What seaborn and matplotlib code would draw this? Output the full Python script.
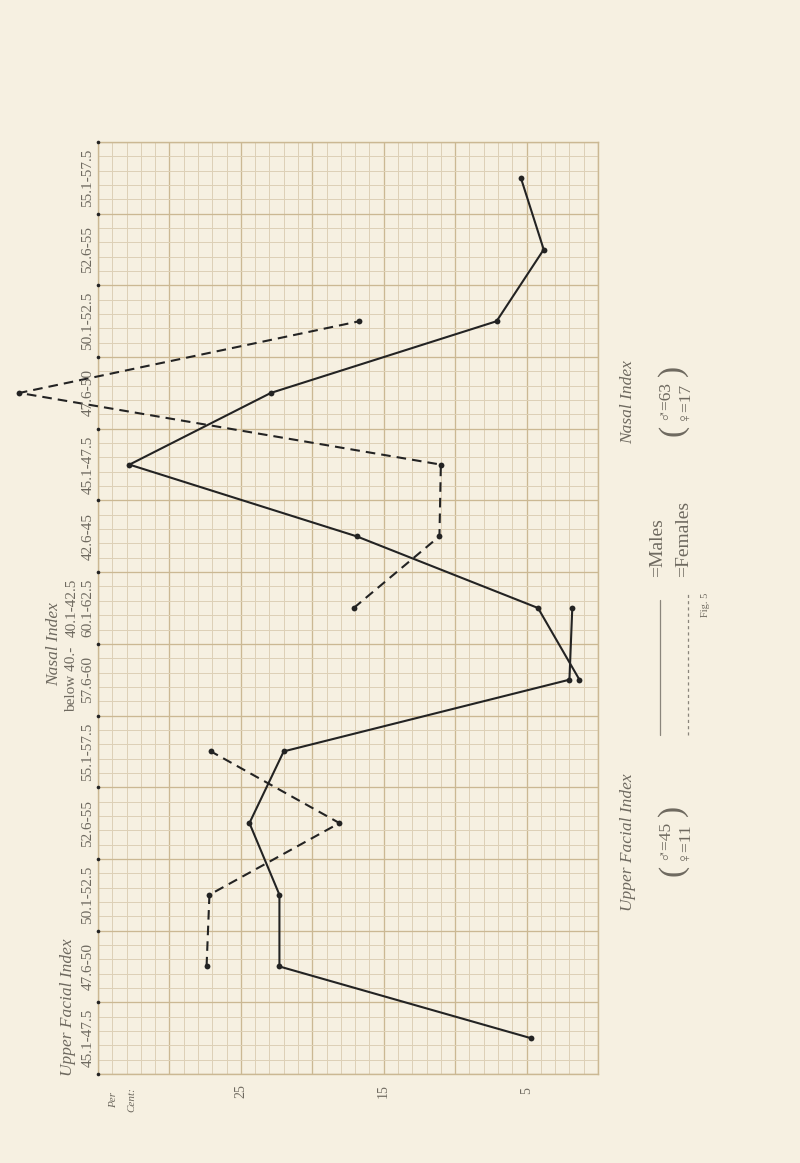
import matplotlib
matplotlib.use("Agg")
import matplotlib.pyplot as plt
import matplotlib.transforms as mtransforms
from matplotlib.lines import Line2D
import seaborn as sns
import pandas as pd
import numpy as np

# ---------------- data ----------------
# bands along the (vertical) index axis, bottom to top
ufi_labels = ["45.1-47.5", "47.6-50", "50.1-52.5", "52.6-55", "55.1-57.5", "57.6-60", "60.1-62.5"]
nasal_labels = ["below 40.-", "40.1-42.5", "42.6-45", "45.1-47.5", "47.6-50",
                "50.1-52.5", "52.6-55", "55.1-57.5"]
nasal_start_band = 5          # "below 40.-" shares the band of "57.6-60"

ufi_male = [4.7, 22.3, 22.3, 24.4, 22.0, 2.0, 1.8]
ufi_female_idx = [1, 2, 3, 4]
ufi_female = [27.4, 27.2, 18.1, 27.1]

nasal_male = [1.3, 4.2, 16.9, 32.8, 22.9, 7.1, 3.8, 5.4]
nasal_female_idx = [1, 2, 3, 4, 5]
nasal_female = [17.1, 11.1, 11.0, 40.5, 16.7]

pct_ticks = [25, 15, 5]
pct_max = 35

n_bands = len(ufi_labels) + len(nasal_labels) - 2

# ---------------- styling ----------------
W, H = 800, 1163
BG = "#f6f0e1"
GRID_MINOR = "#ddd0b6"
GRID_MAJOR = "#cbb893"
INK = "#232323"
TXT = "#6e695f"
SERIF = ["Liberation Serif", "DejaVu Sans"]

sns.set_style("white")
plt.rcParams["font.family"] = SERIF

fig = plt.figure(figsize=(W / 100, H / 100), dpi=100, facecolor=BG)
ax_left, ax_right, ax_top, ax_bot = 98, 598, 142, 1074
ax = fig.add_axes([ax_left / W, 1 - ax_bot / H, (ax_right - ax_left) / W, (ax_bot - ax_top) / H])
ax.set_facecolor(BG)


def px(x, y):
    return x / W, 1 - y / H


# ---------------- series ----------------
def frame(values, bands):
    return pd.DataFrame({"pct": values, "band": [b + 0.5 for b in bands]})


df_ufi_m = frame(ufi_male, list(range(len(ufi_male))))
df_ufi_f = frame(ufi_female, ufi_female_idx)
df_nas_m = frame(nasal_male, [nasal_start_band + i for i in range(len(nasal_male))])
df_nas_f = frame(nasal_female, [nasal_start_band + i for i in nasal_female_idx])

dash = (0, (4.6, 2.9))
for df, ls in [(df_ufi_m, "-"), (df_nas_m, "-"), (df_ufi_f, dash), (df_nas_f, dash)]:
    sns.lineplot(data=df, x="pct", y="band", sort=False, estimator=None, ax=ax,
                 color=INK, lw=1.5, linestyle=ls, marker="o", markersize=4.2,
                 markeredgewidth=0, clip_on=False, zorder=5)

ax.set_xlim(pct_max, 0)
ax.set_ylim(0, n_bands)

# graph-paper grid
ax.set_xticks(np.arange(0, pct_max + 1, 5))
ax.set_xticks(np.arange(0, pct_max + 1, 1), minor=True)
ax.set_yticks(np.arange(0, n_bands + 1, 1))
ax.set_yticks(np.round(np.arange(0, n_bands + 0.01, 0.2), 2), minor=True)
ax.grid(which="minor", color=GRID_MINOR, lw=0.7)
ax.grid(which="major", color=GRID_MAJOR, lw=0.95)
ax.set_axisbelow(True)
ax.tick_params(which="both", length=0, labelbottom=False, labelleft=False)
ax.set_xlabel("")
ax.set_ylabel("")
for s in ax.spines.values():
    s.set_color(GRID_MAJOR)
    s.set_linewidth(1.0)

# dots marking band boundaries on the left edge
ax.plot([pct_max] * (n_bands + 1), list(range(n_bands + 1)), "o", color=INK,
        ms=2.6, mew=0, clip_on=False, zorder=6)

# ---------------- labels ----------------
blend = mtransforms.blended_transform_factory(fig.transFigure, ax.transData)

for i, lab in enumerate(ufi_labels):
    fig.text(88 / W, i + 0.5, lab, transform=blend, rotation=90, ha="center", va="center",
             fontsize=11, color=TXT)
for i, lab in enumerate(nasal_labels):
    b = nasal_start_band + i
    xcol = 72 if b < len(ufi_labels) else 88
    fig.text(xcol / W, b + 0.5, lab, transform=blend, rotation=90, ha="center", va="center",
             fontsize=11, color=TXT)

# axis titles on the left
fig.text(*px(68, 1076), "Upper Facial Index", rotation=90, rotation_mode="anchor",
         ha="left", va="center", fontsize=12.5, style="italic", color=TXT)
fig.text(54 / W, nasal_start_band + 1, "Nasal Index", transform=blend, rotation=90,
         ha="center", va="center", fontsize=12.5, style="italic", color=TXT)

# percent tick labels
blend_x = mtransforms.blended_transform_factory(ax.transData, fig.transFigure)
for t in pct_ticks:
    fig.text(t, 1 - 1091 / H, str(t), transform=blend_x, rotation=90, ha="center",
             va="center", fontsize=10, color=TXT)
fig.text(*px(114, 1100), "Per", rotation=90, ha="center", va="center", fontsize=8,
         style="italic", color=TXT)
fig.text(*px(132, 1100), "Cent:", rotation=90, ha="center", va="center", fontsize=8,
         style="italic", color=TXT)

# right-hand captions
def sample_block(title, yc, male_n, female_n):
    fig.text(*px(628, yc), title, rotation=90, ha="center", va="center",
             fontsize=12.5, style="italic", color=TXT)
    fig.text(*px(664, yc - 2), "\u2642=" + male_n, rotation=90, ha="center", va="center",
             fontsize=12.5, color=TXT, family=SERIF)
    fig.text(*px(683, yc - 2), "\u2640=" + female_n, rotation=90, ha="center", va="center",
             fontsize=12.5, color=TXT, family=SERIF)
    fig.text(*px(673, yc + 28), "(", rotation=90, ha="center", va="center", fontsize=24,
             color=TXT)
    fig.text(*px(673, yc - 32), ")", rotation=90, ha="center", va="center", fontsize=24,
             color=TXT)


sample_block("Upper Facial Index", 842, "45", "11")
sample_block("Nasal Index", 402, "63", "17")

# legend
fig.add_artist(Line2D([660 / W, 660 / W], [1 - 735 / H, 1 - 600 / H], color="#8a857b", lw=0.9))
fig.add_artist(Line2D([688 / W, 688 / W], [1 - 735 / H, 1 - 592 / H], color="#8a857b", lw=0.9,
                      linestyle=(0, (2.5, 2.5))))
fig.text(*px(658, 548), "=Males", rotation=90, ha="center", va="center", fontsize=14, color=TXT)
fig.text(*px(684, 539), "=Females", rotation=90, ha="center", va="center", fontsize=14, color=TXT)
fig.text(*px(705, 605), "Fig. 5", rotation=90, ha="center", va="center", fontsize=7.5, color=TXT)

fig.savefig("out.png", dpi=100, facecolor=BG)
